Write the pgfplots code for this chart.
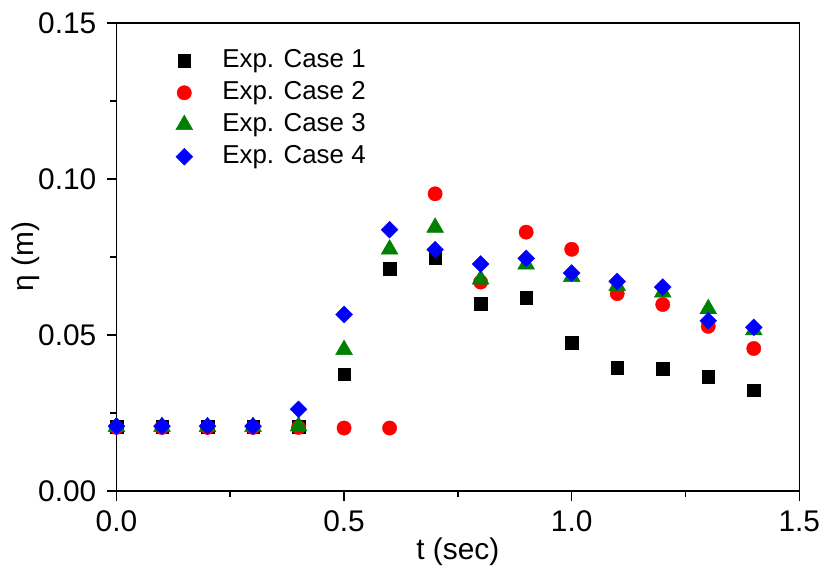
\documentclass[border=0pt]{standalone}
\usepackage{fontspec}
\setmainfont{Liberation Sans}
\usepackage{pgfplots}
\pgfplotsset{compat=1.18}
\begin{document}
\fontsize{30bp}{34bp}\selectfont
\begin{tikzpicture}
\begin{axis}[
  scale only axis,
  width=686bp, height=470bp,
  axis lines=box,
  xmin=0, xmax=1.5, ymin=0, ymax=0.15,
  xtick={0,0.5,1,1.5}, ytick={0,0.05,0.1,0.15},
  minor tick num=1,
  xtick pos=bottom, ytick pos=left, tick align=outside,
  major tick length=10bp, minor tick length=6bp,
  every tick/.style={line width=1.6bp, black},
  axis line style={line width=1.6bp},
  /pgf/number format/assume math mode=true,
  xticklabel style={/pgf/number format/.cd, fixed, fixed zerofill, precision=1},
  yticklabel style={/pgf/number format/.cd, fixed, fixed zerofill, precision=2},
  ticklabel style={font=\fontsize{30bp}{34bp}\selectfont},
  scaled ticks=false,
  xlabel={t (sec)}, ylabel={η (m)},
  every axis x label/.style={at={([yshift=-61bp]rel axis cs:0.5,0)}, anchor=center, font=\fontsize{30bp}{34bp}\selectfont},
  every axis y label/.style={at={([xshift=-91bp]rel axis cs:0,0.5)}, anchor=center, rotate=90, font=\fontsize{30bp}{34bp}\selectfont},
  legend style={at={(0.082,0.952)}, anchor=north west, draw=none, fill=none,
    font=\fontsize{26bp}{30bp}\selectfont, row sep=5.5bp},
  legend image code/.code={\path (0cm,0cm) (1.57cm,0cm); \draw[#1] plot coordinates {(0.3cm,0cm)};},
  legend cell align=left,
  clip=false,
]
\draw[line width=1.6bp] (rel axis cs:0,1) -- (rel axis cs:1,1) -- (rel axis cs:1,0);
\path (rel axis cs:0,0) ++(-117bp,-79bp);
\path (rel axis cs:1,1) ++(27bp,23bp);
\addplot[only marks, mark=square*, mark size=6.3bp, black, mark options={fill=black}] coordinates {
(0,0.0205)(0.1,0.0205)(0.2,0.0205)(0.3,0.0205)(0.4,0.0205)(0.5,0.0373)(0.6,0.0712)(0.7,0.0748)(0.8,0.0600)(0.9,0.0619)(1.0,0.0475)(1.1,0.0395)(1.2,0.0392)(1.3,0.0366)(1.4,0.0322)};
\addlegendentry{Exp. Case 1}
\addplot[only marks, mark=*, mark size=7.2bp, red, mark options={fill=red}] coordinates {
(0,0.0203)(0.1,0.0203)(0.2,0.0203)(0.3,0.0203)(0.4,0.0203)(0.5,0.0201)(0.6,0.0201)(0.7,0.0952)(0.8,0.0669)(0.9,0.0829)(1.0,0.0774)(1.1,0.0632)(1.2,0.0597)(1.3,0.0527)(1.4,0.0456)};
\addlegendentry{Exp. Case 2}
\addplot[only marks, mark=triangle*, mark size=9.8bp, green!50!black, mark options={fill=green!50!black}] coordinates {
(0,0.0205)(0.1,0.0205)(0.2,0.0205)(0.3,0.0205)(0.4,0.0207)(0.5,0.0452)(0.6,0.0774)(0.7,0.0844)(0.8,0.0678)(0.9,0.0726)(1.0,0.0686)(1.1,0.0657)(1.2,0.0636)(1.3,0.0583)(1.4,0.0515)};
\addlegendentry{Exp. Case 3}
\addplot[only marks, mark=square*, mark size=6bp, blue, mark options={fill=blue, rotate=45}] coordinates {
(0,0.0207)(0.1,0.0207)(0.2,0.0207)(0.3,0.0207)(0.4,0.0261)(0.5,0.0565)(0.6,0.0837)(0.7,0.0773)(0.8,0.0727)(0.9,0.0745)(1.0,0.0698)(1.1,0.0671)(1.2,0.0653)(1.3,0.0545)(1.4,0.0524)};
\addlegendentry{Exp. Case 4}
\end{axis}
\end{tikzpicture}
\end{document}
